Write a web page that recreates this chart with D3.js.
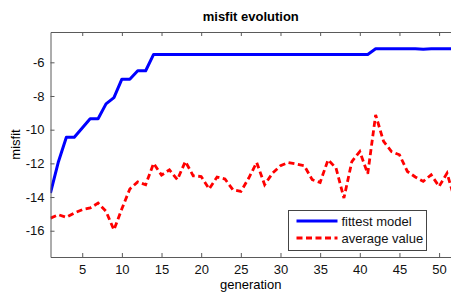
<!DOCTYPE html>
<html>
<head>
<meta charset="utf-8">
<script src="https://cdn.jsdelivr.net/npm/d3@7"></script>
<style>
  body { margin: 0; background: #fff; }
  text { font-family: "Liberation Sans", Arial, sans-serif; }
</style>
</head>
<body>
<div id="chart"></div>
<script>
const width = 451, height = 293;
const margin = {top: 32, right: 0, bottom: 36, left: 50.5};

// data
const generations = d3.range(1, 53);
const fittest = [-13.76, -11.9, -10.45, -10.45, -9.9, -9.35, -9.35, -8.47, -8.1, -7.0,
  -7.0, -6.5, -6.5, -5.53, -5.53, -5.53, -5.53, -5.53, -5.53, -5.53,
  -5.53, -5.53, -5.53, -5.53, -5.53, -5.53, -5.53, -5.53, -5.53, -5.53,
  -5.53, -5.53, -5.53, -5.53, -5.53, -5.53, -5.53, -5.53, -5.53, -5.53,
  -5.53, -5.2, -5.2, -5.2, -5.2, -5.2, -5.2, -5.23, -5.2, -5.2,
  -5.2, -5.2];
const average = [-15.25, -15.05, -15.2, -14.95, -14.75, -14.65, -14.36, -14.85, -15.95, -14.7,
  -13.52, -13.1, -13.27, -12.0, -12.7, -12.38, -12.97, -11.89, -12.74, -12.78,
  -13.52, -12.81, -12.93, -13.57, -13.67, -12.87, -11.95, -13.27, -12.58, -12.14,
  -11.95, -12.04, -12.14, -12.97, -13.13, -11.79, -12.28, -14.06, -11.89, -11.3,
  -12.62, -9.12, -10.7, -11.3, -11.49, -12.48, -12.81, -13.07, -12.68, -13.37,
  -12.58, -14.2];
const xTicks = [5, 10, 15, 20, 25, 30, 35, 40, 45, 50];
const yTicks = [-16, -14, -12, -10, -8, -6];
const seriesNames = ["fittest model", "average value"];

const svg = d3.select("#chart").append("svg")
    .attr("width", width)
    .attr("height", height);

const x = d3.scaleLinear().domain([1, 51.5]).range([margin.left, width - margin.right]);
const y = d3.scaleLinear().domain([-17.56, -4.2]).range([height - margin.bottom, margin.top]);

const axisColor = "#5a5a5a";

svg.append("clipPath").attr("id", "plotClip")
    .append("rect")
    .attr("x", margin.left).attr("y", margin.top)
    .attr("width", width - margin.right - margin.left)
    .attr("height", height - margin.bottom - margin.top);

// lines
const line = d3.line()
    .x((d, i) => x(generations[i]))
    .y(d => y(d));

svg.append("path")
    .datum(fittest)
    .attr("clip-path", "url(#plotClip)")
    .attr("fill", "none")
    .attr("stroke", "#0000ff")
    .attr("stroke-width", 3)
    .attr("stroke-linejoin", "round")
    .attr("d", line);

svg.append("path")
    .datum(average)
    .attr("clip-path", "url(#plotClip)")
    .attr("fill", "none")
    .attr("stroke", "#ff0000")
    .attr("stroke-width", 2.8)
    .attr("stroke-dasharray", "6,3.5")
    .attr("d", line);

// axes (ticks inward, mirrored on top)
const xAxis = svg.append("g")
    .attr("transform", `translate(0,${height - margin.bottom})`)
    .call(d3.axisBottom(x).tickValues(xTicks).tickSizeInner(-4).tickSizeOuter(0).tickPadding(8));
const xTop = svg.append("g")
    .attr("transform", `translate(0,${margin.top})`)
    .call(d3.axisTop(x).tickValues(xTicks).tickSizeInner(-4).tickSizeOuter(0).tickFormat(""));
const yAxis = svg.append("g")
    .attr("transform", `translate(${margin.left},0)`)
    .call(d3.axisLeft(y).tickValues(yTicks).tickSizeInner(-4).tickSizeOuter(0).tickPadding(6));

[xAxis, xTop, yAxis].forEach(g => {
    g.selectAll("path, line").attr("stroke", axisColor);
    g.selectAll("text").attr("fill", "#111").style("font-size", "13px")
        .style("font-family", "'Liberation Sans', Arial, sans-serif");
});
yAxis.selectAll("text").text(d => d < 0 ? "-" + Math.abs(d) : d);

// title and labels
svg.append("text")
    .attr("x", (margin.left + width - margin.right) / 2)
    .attr("y", 21)
    .attr("text-anchor", "middle")
    .style("font-size", "13px")
    .style("font-weight", "bold")
    .text("misfit evolution");

svg.append("text")
    .attr("x", (margin.left + width - margin.right) / 2)
    .attr("y", 289)
    .attr("text-anchor", "middle")
    .style("font-size", "13px")
    .text("generation");

svg.append("text")
    .attr("transform", `translate(20,${(margin.top + height - margin.bottom) / 2}) rotate(-90)`)
    .attr("text-anchor", "middle")
    .style("font-size", "13px")
    .text("misfit");

// legend
const legend = svg.append("g").attr("transform", "translate(288.5,210.5)");
legend.append("rect")
    .attr("width", 138).attr("height", 40)
    .attr("fill", "#fff")
    .attr("stroke", "#444")
    .attr("stroke-width", 1);
const legendStyles = [{color: "#0000ff", dash: null}, {color: "#ff0000", dash: "6,3.5"}];
seriesNames.forEach((name, i) => {
    const ly = 10.5 + i * 17;
    legend.append("line")
        .attr("x1", 8).attr("x2", 49)
        .attr("y1", ly).attr("y2", ly)
        .attr("stroke", legendStyles[i].color)
        .attr("stroke-width", i === 0 ? 3 : 2.8)
        .attr("stroke-dasharray", legendStyles[i].dash);
    legend.append("text")
        .attr("x", 53)
        .attr("y", ly + 4.5)
        .style("font-size", "13px")
        .attr("fill", "#111")
        .text(name);
});
</script>
</body>
</html>
